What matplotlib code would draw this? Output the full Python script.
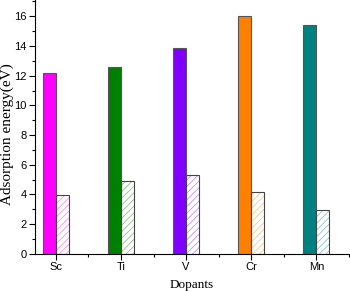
import numpy as np
import matplotlib.pyplot as plt
from matplotlib.ticker import MultipleLocator

# Data
dopants = ['Sc', 'Ti', 'V', 'Cr', 'Mn']
solid_vals = [12.2, 12.6, 13.84, 16.0, 15.42]
hatch_vals = [3.93, 4.87, 5.33, 4.13, 2.94]
colors = ['#ff00ff', '#008000', '#8000ff', '#ff8000', '#008080']

x = np.arange(1, len(dopants) + 1)
w = 0.2

fig = plt.figure(figsize=(3.5, 2.91), dpi=100)
ax = fig.add_axes([0.1, 0.128, 0.897, 0.872])

ax.bar(x - w / 2, solid_vals, w, color=colors, edgecolor='#555555', linewidth=0.8)

# hatched bars: light coloured hatch + gray outline
plt.rcParams['hatch.linewidth'] = 0.6
for xi, v, c in zip(x, hatch_vals, colors):
    ax.bar(xi + w / 2, v, w, color='white', edgecolor=c, hatch='/////',
           linewidth=0, alpha=0.45)
    ax.bar(xi + w / 2, v, w, color='none', edgecolor='#444444', linewidth=0.8)

ax.set_xlim(0.68, 5.5)
ax.set_ylim(0, 17.1)
ax.set_xticks(x)
ax.set_xticklabels(dopants, fontfamily='Liberation Sans', fontsize=8)
ax.xaxis.set_minor_locator(MultipleLocator(1, offset=0.5))
ax.yaxis.set_major_locator(MultipleLocator(2))
ax.yaxis.set_minor_locator(MultipleLocator(1))
for lab in ax.get_yticklabels():
    lab.set_fontfamily('Liberation Sans')
    lab.set_fontsize(8)

ax.tick_params(which='major', direction='out', length=4, width=0.8, pad=2)
ax.tick_params(which='minor', direction='out', length=2, width=0.8)
ax.spines['top'].set_visible(False)
ax.spines['right'].set_visible(False)

ax.set_xlabel('Dopants', fontfamily='Liberation Serif', fontsize=9.5, labelpad=5)
ax.set_ylabel('Adsorption energy(eV)', fontfamily='Liberation Serif', fontsize=11)
ax.yaxis.set_label_coords(-0.066, 0.47)

fig.savefig('out.png', dpi=100)
